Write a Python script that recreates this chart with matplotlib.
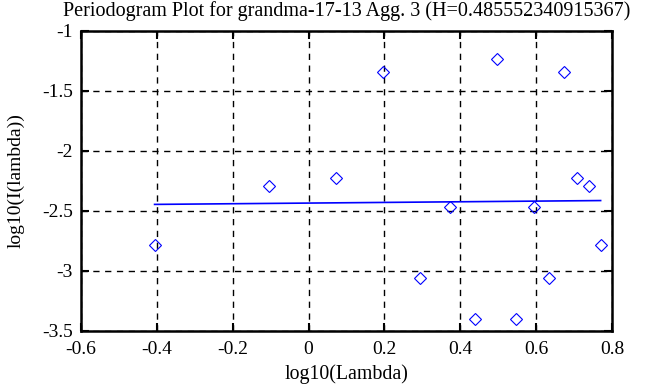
import matplotlib
matplotlib.use("Agg")
import matplotlib.pyplot as plt

# Data
log_lambda = [-0.406, -0.105, 0.071, 0.196, 0.293, 0.372, 0.439, 0.497,
              0.548, 0.594, 0.635, 0.673, 0.708, 0.740, 0.770]
log_I = [-2.783, -2.290, -2.225, -1.342, -3.060, -2.467, -3.400, -1.233,
         -3.400, -2.467, -3.060, -1.342, -2.225, -2.290, -2.783]
fit_x = [-0.406, 0.770]
fit_y = [-2.445, -2.413]

title = "Periodogram Plot for grandma-17-13 Agg. 3 (H=0.485552340915367)"
xticks = [-0.6, -0.4, -0.2, 0, 0.2, 0.4, 0.6, 0.8]
xticklabels = ["-0.6", "-0.4", "-0.2", "0", "0.2", "0.4", "0.6", "0.8"]
yticks = [-3.5, -3, -2.5, -2, -1.5, -1]
yticklabels = ["-3.5", "-3", "-2.5", "-2", "-1.5", "-1"]

plt.rcParams['font.family'] = ['Liberation Serif', 'DejaVu Serif']

fig = plt.figure(figsize=(6.68, 3.87), dpi=100)
ax = fig.add_axes([81/668, 1 - 331/387, (612-81)/668, (331-31)/387])

ax.plot(fit_x, fit_y, color='#0000ff', lw=1.2, zorder=3)
ax.plot(log_lambda, log_I, linestyle='none', marker='D', markersize=6.6,
        markerfacecolor='none', markeredgecolor='#0000ff', markeredgewidth=0.8, zorder=4)

ax.set_xlim(-0.6, 0.8)
ax.set_ylim(-3.5, -1)
ax.set_xticks(xticks)
ax.set_xticklabels(xticklabels)
ax.set_yticks(yticks)
ax.set_yticklabels(yticklabels)
ax.grid(True, color='black', linestyle=(0, (4.5, 4)), linewidth=1.0)
ax.tick_params(direction='in', length=6, width=1.5, top=True, right=True,
               labelsize=14, colors='black')
ax.tick_params(axis='x', pad=7)
ax.tick_params(axis='y', pad=6)
for s in ax.spines.values():
    s.set_linewidth(1.8)

ax.set_title(title, fontsize=14.5, pad=11)
ax.set_xlabel("log10(Lambda)", fontsize=14.3, labelpad=5)
ax.set_ylabel("log10(I(lambda))", fontsize=14, labelpad=12)

fig.savefig("out.png", dpi=100)
